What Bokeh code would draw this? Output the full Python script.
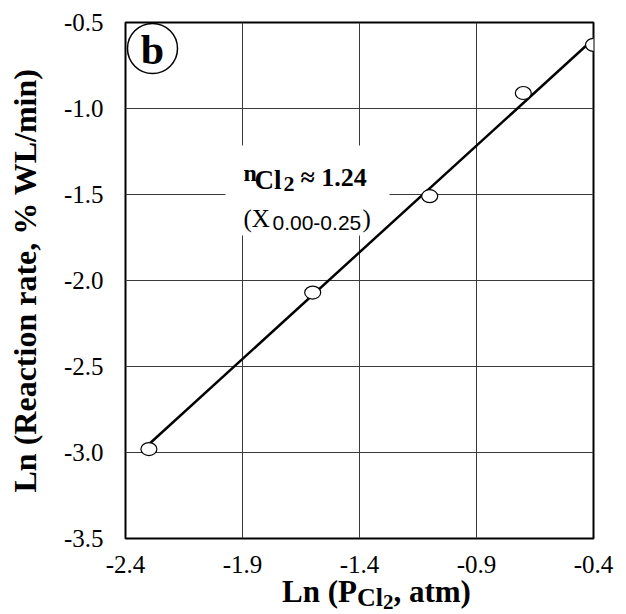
import numpy as np
from bokeh.plotting import figure
from bokeh.layouts import column
from bokeh.models import Range1d, FixedTicker, PrintfTickFormatter, Label, BoxAnnotation, Div
from bokeh.embed import file_html
from bokeh.resources import INLINE

# ---- data ----
ln_p_cl2 = [-2.30, -1.60, -1.10, -0.70, -0.40]
ln_rate = [-2.98, -2.07, -1.51, -0.91, -0.63]
x_ticks = [-2.4, -1.9, -1.4, -0.9, -0.4]
y_ticks = [-3.5, -3.0, -2.5, -2.0, -1.5, -1.0, -0.5]
reaction_order = 1.24
fit_intercept = -0.10

# ---- layout ----
X0, X1 = -2.4, -0.4
Y0, Y1 = -3.5, -0.5
FL, FT, FW, FH = 125, 22, 468, 516
W = 626
PH = 588          # figure height
DH = 614 - PH     # x-title strip height
SERIF = "Liberation Serif"


def dx(px):
    """reference-image pixel x -> data x (annotation placement only)"""
    return X0 + (px - FL) / FW * (X1 - X0)


def dy(py):
    return Y1 - (py - FT) / FH * (Y1 - Y0)


p = figure(width=W, height=PH, x_range=Range1d(X0, X1), y_range=Range1d(Y0, Y1),
           output_backend="svg", toolbar_location=None,
           min_border_left=FL, min_border_top=FT,
           min_border_right=W - FL - FW, min_border_bottom=PH - FT - FH)
p.margin = 0
p.background_fill_color = "white"
p.border_fill_color = "white"
p.outline_line_color = "black"
p.outline_line_width = 2

for ax in (p.xaxis, p.yaxis):
    ax.axis_line_color = None
    ax.major_tick_line_color = None
    ax.minor_tick_line_color = None
    ax.major_tick_out = 0
    ax.major_tick_in = 0
    ax.major_label_text_font = SERIF
    ax.major_label_text_font_size = "25px"
    ax.major_label_text_color = "black"
    ax.formatter = PrintfTickFormatter(format="%.1f")
p.xaxis.ticker = FixedTicker(ticks=x_ticks)
p.yaxis.ticker = FixedTicker(ticks=y_ticks)
p.xaxis.major_label_standoff = 17
p.yaxis.major_label_standoff = 22

p.yaxis.axis_label = "Ln (Reaction rate, % WL/min)"
p.yaxis.axis_label_text_font = SERIF
p.yaxis.axis_label_text_font_style = "bold"
p.yaxis.axis_label_text_font_size = "32px"
p.yaxis.axis_label_text_color = "black"
p.yaxis.axis_label_standoff = 18

p.xgrid.ticker = FixedTicker(ticks=x_ticks)
p.ygrid.ticker = FixedTicker(ticks=y_ticks)
for g in (p.xgrid, p.ygrid):
    g.grid_line_color = "#3a3a3a"
    g.grid_line_width = 1

# white box behind the annotation text
box = BoxAnnotation(left=dx(225), right=dx(389), top=dy(145), bottom=dy(235),
                    fill_color="white", fill_alpha=1.0, line_color=None, level="underlay")
p.add_layout(box)

# fit line
fit_x = np.array([ln_p_cl2[0], ln_p_cl2[-1]])
fit_y = reaction_order * fit_x + fit_intercept
p.line(fit_x, fit_y, line_color="black", line_width=2.5)

# data points
p.ellipse(x=ln_p_cl2, y=ln_rate, width=16, height=13,
          width_units="screen", height_units="screen",
          fill_color="white", line_color="black", line_width=1.2)

# circled "b"
p.scatter(x=[dx(152)], y=[dy(48)], size=50, marker="circle",
          fill_color=None, line_color="black", line_width=1.5)
p.add_layout(Label(x=dx(152), y=dy(49), text="b", text_font=SERIF, text_font_style="bold",
                   text_font_size="42px", text_align="center", text_baseline="middle",
                   text_color="black"))


def lab(px, py, text, size, bold=True, font=SERIF, align="left"):
    p.add_layout(Label(x=dx(px), y=dy(py), text=text, text_font=font,
                       text_font_style="bold" if bold else "normal",
                       text_font_size=f"{size}px", text_align=align,
                       text_baseline="alphabetic", text_color="black"))


# annotation: n_Cl2 ≈ 1.24
lab(243, 172, "n", 24)
lab(254, 179, "Cl", 27)
lab(283, 183, "2", 22)
lab(300, 177, f"≈ {reaction_order:.2f}", 26)
# (X_0.00-0.25)
lab(243, 218, "(X", 25, bold=False)
lab(272, 222, "0.00-0.25", 21, bold=False, font="Liberation Sans")
lab(362, 218, ")", 25, bold=False)

# x axis title: Ln (P_Cl2, atm)  (HTML strip below the plot)
xtitle = Div(
    text=(
        "<div style=\"position:relative; top:-9px; font-family:'Liberation Serif'; "
        "font-weight:bold; font-size:31px; line-height:26px; padding-left:282px; "
        "white-space:nowrap; color:black;\">"
        "Ln (P<span style=\"font-size:26px; position:relative; top:4px;\">Cl"
        "<span style=\"font-size:21px; position:relative; top:3px;\">2</span></span>, atm)</div>"
    ),
    width=W, height=DH, margin=0,
)

layout = column(p, xtitle, spacing=0)
open("out.html", "w").write(file_html(layout, INLINE))
